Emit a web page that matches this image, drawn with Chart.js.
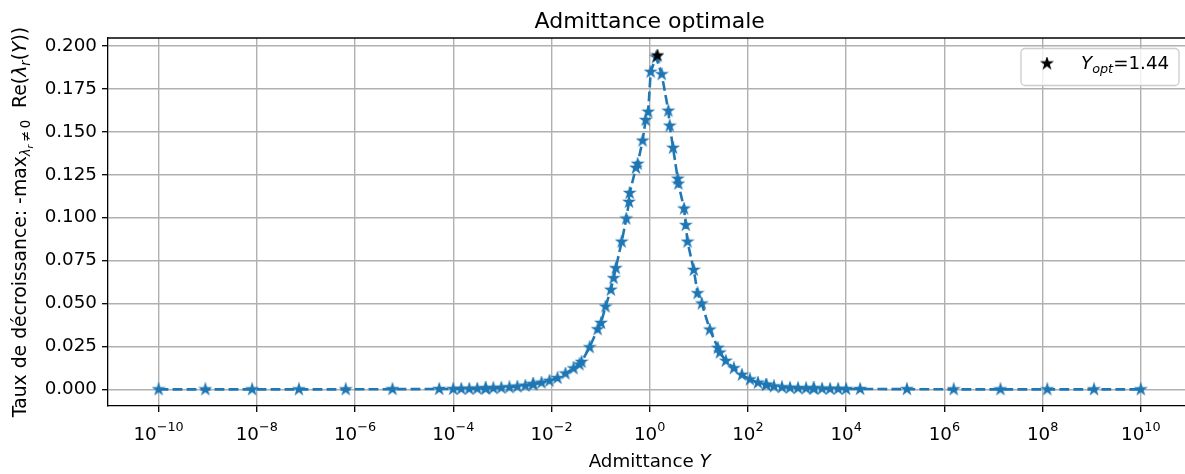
<!DOCTYPE html>
<html>
<head>
<meta charset="utf-8">
<script src="https://cdn.jsdelivr.net/npm/chart.js@4/dist/chart.umd.min.js"></script>
<style>
  html, body { margin: 0; padding: 0; background: #fff; }
  canvas { display: block; }
</style>
</head>
<body>
<canvas id="chart" width="1185" height="474"></canvas>
<script>
// admittance Y (x axis, log) and decay rate
const admittance = [
  1e-10, 8.95e-10, 8.04e-9, 7.20e-8, 6.46e-7, 5.78e-6, 5.18e-5,
  1e-4, 1.456e-4, 2.12e-4, 3.09e-4, 4.50e-4, 4.64e-4, 6.55e-4, 9.54e-4,
  1.39e-3, 2.02e-3, 2.94e-3, 4.16e-3, 4.30e-3, 6.25e-3, 9.10e-3,
  1.325e-2, 1.93e-2, 2.81e-2, 3.72e-2, 4.09e-2, 5.97e-2, 8.69e-2,
  0.102, 0.126, 0.162, 0.184, 0.204, 0.269, 0.334, 0.380, 0.391,
  0.525, 0.569, 0.716, 0.828, 0.933, 1.047, 1.349,
  1.758, 2.399, 2.559, 2.992, 3.724, 3.846, 5.012, 5.433, 5.888,
  7.907, 9.44, 11.51, 16.75, 24.43, 26.85, 35.56, 51.76, 75.51,
  109.9, 160.0, 232.8, 240.4, 339.6, 494.3, 719.5, 1047, 1528,
  2153, 2223, 3236, 4710, 6871, 10000, 19320,
  1.73e5, 1.549e6, 1.39e7, 1.245e8, 1.117e9, 1e10
];
const decayRate = [
  0, 0, 0, 0, 0, 0.0001, 0.0002,
  0.0002, 0.0003, 0.0003, 0.0004, 0.0005, 0.0005, 0.0007, 0.0009,
  0.0012, 0.0016, 0.0021, 0.0029, 0.0030, 0.0039, 0.0050,
  0.0066, 0.0092, 0.0122, 0.0145, 0.0160, 0.0245, 0.0350,
  0.0387, 0.0482, 0.0580, 0.0648, 0.0706, 0.0860, 0.0995, 0.1092, 0.1144,
  0.1291, 0.1314, 0.1449, 0.1569, 0.1617, 0.1850, 0.1935,
  0.1836, 0.1623, 0.1536, 0.1407, 0.1227, 0.1198, 0.1053, 0.0957, 0.0860,
  0.0696, 0.0560, 0.0500, 0.0348, 0.0242, 0.0214, 0.0166, 0.0123, 0.0085,
  0.0058, 0.0039, 0.0027, 0.0026, 0.0017, 0.0012, 0.0009, 0.0007, 0.0006,
  0.0005, 0.0005, 0.0004, 0.0003, 0.0003, 0.0002, 0.0002,
  0.0001, 0, 0, 0, 0, 0
];
const yOpt = 1.44;
const decayOpt = 0.1945;

const xTickExponents = [-10, -8, -6, -4, -2, 0, 2, 4, 6, 8, 10];
const yTickValues = [0, 0.025, 0.05, 0.075, 0.1, 0.125, 0.15, 0.175, 0.2];

const FONT = '"DejaVu Sans", sans-serif';
const BLUE = '#1f77b4';
const FS = 18.3;   // normal text
const SUB = 12.8;  // sub/superscripts

function font(size, italic) {
  return (italic ? 'italic ' : '') + size + 'px ' + FONT;
}

// runs: [text, size, italic, dy]
function runsWidth(ctx, runs) {
  let w = 0;
  runs.forEach(([t, s, it]) => { ctx.font = font(s, it); w += ctx.measureText(t).width; });
  return w;
}

function drawRuns(ctx, runs, x, y, align) {
  let cx = align === 'center' ? x - runsWidth(ctx, runs) / 2 : x;
  ctx.textAlign = 'left';
  ctx.textBaseline = 'alphabetic';
  runs.forEach(([t, s, it, dy]) => {
    ctx.font = font(s, it);
    ctx.fillText(t, cx, y + (dy || 0));
    cx += ctx.measureText(t).width;
  });
}

function makeStar(color, r, lw) {
  const c = document.createElement('canvas');
  const size = Math.ceil(2 * r + lw + 2);
  c.width = c.height = size;
  const g = c.getContext('2d');
  g.translate(size / 2, size / 2);
  g.beginPath();
  for (let i = 0; i < 10; i++) {
    const rad = i % 2 ? r * 0.382 : r;
    const a = -Math.PI / 2 + i * Math.PI / 5;
    g.lineTo(rad * Math.cos(a), rad * Math.sin(a));
  }
  g.closePath();
  g.fillStyle = color;
  g.fill();
  g.lineWidth = lw;
  g.strokeStyle = color;
  g.stroke();
  return c;
}

const starBlue = makeStar(BLUE, 5, 1.6);
const starBlack = makeStar('#000', 5, 1.6);

const annotations = {
  id: 'annotations',
  afterDraw(chart) {
    const { ctx, chartArea: a, scales: { x } } = chart;
    ctx.save();

    // top spine (right spine falls outside the picture)
    ctx.strokeStyle = '#000';
    ctx.lineWidth = 1.3;
    ctx.beginPath();
    ctx.moveTo(a.left, a.top);
    ctx.lineTo(a.right, a.top);
    ctx.stroke();

    ctx.fillStyle = '#000';
    // x tick labels 10^n
    xTickExponents.forEach(e => {
      const px = x.getPixelForValue(Math.pow(10, e));
      const exp = (e < 0 ? '\u2212' : '') + Math.abs(e);
      drawRuns(ctx, [['10', FS], [exp, SUB, false, -8.5]], px, 439.5, 'center');
    });

    const cx = x.getPixelForValue(1);
    // title
    drawRuns(ctx, [['Admittance optimale', 22]], cx, 27.5, 'center');
    // x axis label
    drawRuns(ctx, [['Admittance ', FS], ['Y', FS, true]], cx, 467, 'center');

    // y axis label
    const LF = 18.8;
    ctx.save();
    ctx.translate(26, (a.top + a.bottom) / 2);
    ctx.rotate(-Math.PI / 2);
    drawRuns(ctx, [
      ['Taux de décroissance: -max', LF],
      ['\u03bb', 13.2, true, 4],
      ['r', 9.3, true, 7],
      ['\u2009\u2260\u20090', 13.2, false, 4],
      ['  Re(', LF],
      ['\u03bb', LF, true],
      ['r', 13.2, true, 4],
      ['(', LF],
      ['Y', LF, true],
      ['))', LF]
    ], 0, 0, 'center');
    ctx.restore();

    // legend
    const lx = 1021, ly = a.top + 10.5, lw = 158, lh = 37;
    ctx.beginPath();
    ctx.roundRect(lx, ly, lw, lh, 4);
    ctx.fillStyle = 'rgba(255,255,255,0.8)';
    ctx.fill();
    ctx.strokeStyle = '#cccccc';
    ctx.lineWidth = 1.3;
    ctx.stroke();
    ctx.drawImage(starBlack, 1047 - starBlack.width / 2, 63.5 - starBlack.height / 2);
    ctx.fillStyle = '#000';
    drawRuns(ctx, [['Y', FS, true], ['opt', SUB, true, 4], ['=' + yOpt, FS]], 1081, 69, 'left');

    ctx.restore();
  }
};

const gridOpts = { color: '#b0b0b0', lineWidth: 1.4, tickColor: '#000', tickLength: 6, tickWidth: 1.3 };
const borderOpts = { color: '#000', width: 1.3 };

new Chart(document.getElementById('chart'), {
  type: 'line',
  data: {
    datasets: [
      {
        label: 'Y_opt',
        data: [{ x: yOpt, y: decayOpt }],
        showLine: false,
        pointStyle: starBlack,
        pointRadius: 6,
        order: 0
      },
      {
        label: 'decay',
        data: admittance.map((v, i) => ({ x: v, y: decayRate[i] })),
        borderColor: BLUE,
        backgroundColor: BLUE,
        borderWidth: 2.6,
        borderDash: [9.8, 4.2],
        pointStyle: starBlue,
        pointRadius: 6,
        tension: 0,
        fill: false,
        order: 1
      }
    ]
  },
  options: {
    responsive: false,
    animation: false,
    events: [],
    layout: { autoPadding: false, padding: { top: 38, left: 0, right: 0, bottom: 0 } },
    plugins: { legend: { display: false }, tooltip: { enabled: false }, title: { display: false } },
    scales: {
      x: {
        type: 'logarithmic',
        min: Math.pow(10, -11.03),
        max: Math.pow(10, 10.9),
        afterBuildTicks: s => { s.ticks = xTickExponents.map(e => ({ value: Math.pow(10, e) })); },
        afterFit: s => { s.height = 68; },
        grid: gridOpts,
        border: borderOpts,
        ticks: { display: false }
      },
      y: {
        type: 'linear',
        min: -0.0097,
        max: 0.2047,
        afterBuildTicks: s => { s.ticks = yTickValues.map(v => ({ value: v })); },
        afterFit: s => { s.width = 108; },
        grid: gridOpts,
        border: borderOpts,
        ticks: {
          callback: v => v.toFixed(3),
          font: { family: 'DejaVu Sans', size: FS },
          color: '#000',
          padding: 5
        }
      }
    }
  },
  plugins: [annotations]
});
</script>
</body>
</html>
